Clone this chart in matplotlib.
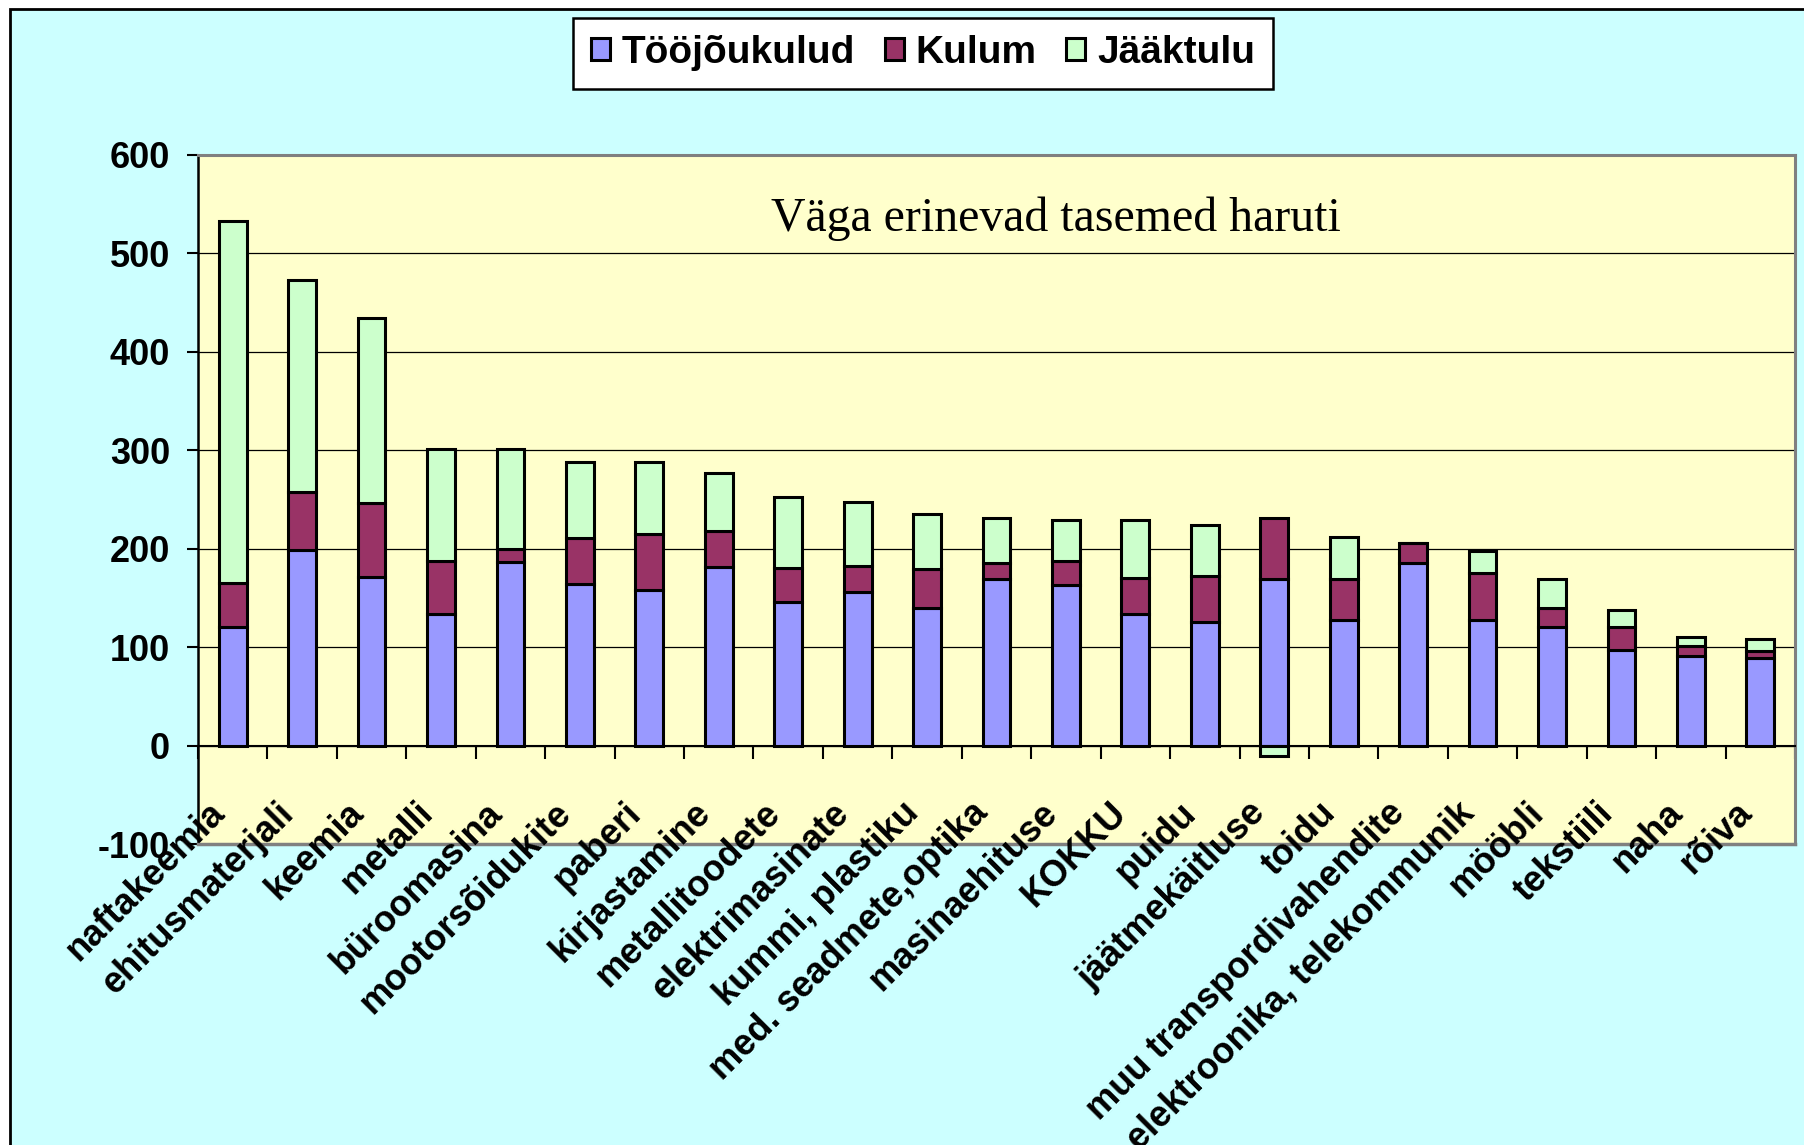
import numpy as np
import matplotlib.pyplot as plt
from matplotlib.patches import Rectangle
from matplotlib.ticker import FixedLocator

# harud ja väärtused (loetud jooniselt)
harud = ["naftakeemia", "ehitusmaterjali", "keemia", "metalli", "büroomasina",
         "mootorsõidukite", "paberi", "kirjastamine", "metallitoodete",
         "elektrimasinate", "kummi, plastiku", "med. seadmete,optika",
         "masinaehituse", "KOKKU", "puidu", "jäätmekäitluse", "toidu",
         "muu transpordivahendite", "elektroonika, telekommunik", "mööbli",
         "tekstiili", "naha", "rõiva"]
toojoukulud = [120, 199, 171, 134, 187, 164, 158, 181, 146, 156, 140, 169,
               163, 134, 126, 169, 128, 185, 128, 120, 97, 91, 89]
kulum = [45, 59, 75, 54, 13, 47, 57, 37, 34, 26, 39, 16,
         25, 36, 46, 62, 41, 21, 47, 20, 23, 10, 7]
jaaktulu = [368, 215, 188, 113, 101, 77, 73, 59, 73, 65, 56, 46,
            41, 59, 52, -11, 43, 0, 23, 29, 18, 9, 12]
seeriad = ["Tööjõukulud", "Kulum", "Jääktulu"]
yticks = [-100, 0, 100, 200, 300, 400, 500, 600]
pealkiri = "Väga erinevad tasemed haruti"

FONT = "Liberation Sans"
FS = 26

fig = plt.figure(figsize=(18.04, 11.45), dpi=100, facecolor="white")
# taust ja raam
fig.add_artist(Rectangle((10 / 1804, -0.1), 1.2, 1.1 - 9 / 1145,
                         transform=fig.transFigure, facecolor="#CCFFFF",
                         edgecolor="black", lw=2, zorder=-10))

ax = fig.add_axes([198 / 1804, 1 - 844 / 1145, (1795 - 198) / 1804, (844 - 155) / 1145])
ax.set_facecolor("#FFFFCC")

x = np.arange(len(harud))
too = np.array(toojoukulud)
kul = np.array(kulum)
jaa = np.array(jaaktulu)
jaa_bottom = np.where(jaa >= 0, too + kul, 0)

w = 0.4
ax.bar(x, too, w, color="#9999FF", edgecolor="black", lw=2.2, label=seeriad[0], zorder=3)
ax.bar(x, kul, w, bottom=too, color="#993366", edgecolor="black", lw=2.2, label=seeriad[1], zorder=3)
ax.bar(x, jaa, w, bottom=jaa_bottom, color="#CCFFCC", edgecolor="black", lw=2.2, label=seeriad[2], zorder=3)

ax.set_xlim(-0.5, len(harud) - 0.5)
ax.set_ylim(-100, 600)
ax.set_yticks(yticks)
ax.set_yticklabels([str(v) for v in yticks], fontsize=FS, fontweight="bold", family=FONT)
ax.yaxis.grid(True, color="black", lw=0.9)
ax.set_axisbelow(True)
ax.tick_params(axis="y", direction="out", length=8, width=1.5, pad=12)

# kategooriatelg nulli kohal
ax.spines["bottom"].set_position(("data", 0))
ax.spines["bottom"].set_linewidth(1.5)
ax.spines["left"].set_linewidth(1.8)
for s in ("top", "right"):
    ax.spines[s].set_color("#808080")
    ax.spines[s].set_linewidth(2.2)
ax.axhline(-100, color="#808080", lw=2.5, zorder=4, clip_on=False)

ax.xaxis.set_major_locator(FixedLocator(x))
ax.xaxis.set_minor_locator(FixedLocator(np.arange(-0.5, len(harud), 1.0)))
ax.set_xticklabels([])
ax.tick_params(axis="x", which="major", length=0)
ax.tick_params(axis="x", which="minor", direction="out", length=9, width=1.5)

for i, h in zip(x, harud):
    ax.text(i - 0.1, -70, h, rotation=45, rotation_mode="anchor", ha="right",
            va="baseline", fontsize=FS, fontweight="bold", family=FONT,
            clip_on=False, zorder=6)

ax.text(0.537, 0.89, pealkiri, transform=ax.transAxes, ha="center",
        va="baseline", fontsize=34.5, family="Liberation Serif")

fig.legend(loc="center", bbox_to_anchor=(923 / 1804, 1 - 53 / 1145), ncol=3,
           prop={"family": FONT, "weight": "bold", "size": 28},
           frameon=True, fancybox=False, edgecolor="black", framealpha=1,
           handlelength=0.5, handleheight=0.5, handletextpad=0.3,
           columnspacing=0.75, borderpad=0.45)
fig.legends[0].get_frame().set_linewidth(1.8)

fig.savefig("out.png", dpi=100, facecolor=fig.get_facecolor())
